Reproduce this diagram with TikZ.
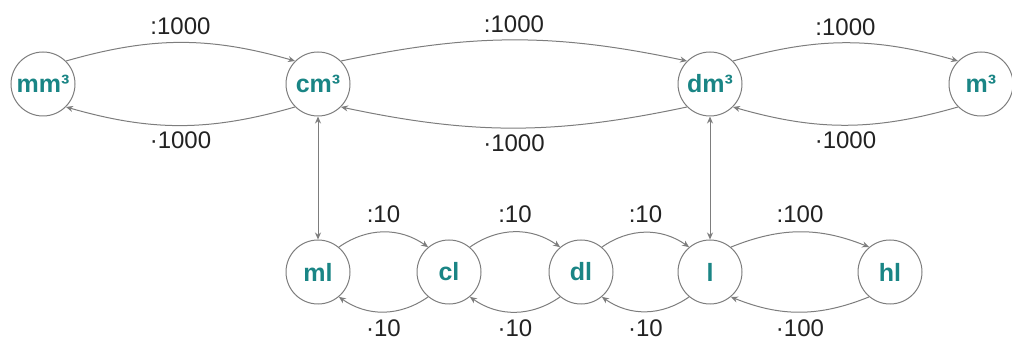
\documentclass[tikz,border=0pt]{standalone}
\usepackage{fontspec}
\setmainfont{Liberation Sans}
\usetikzlibrary{arrows.meta}
\definecolor{unitteal}{HTML}{1A8585}
\definecolor{linegray}{HTML}{7D7D7D}
\definecolor{labtext}{HTML}{222222}
\begin{document}
\begin{tikzpicture}[x=1pt,y=1pt,
  unit/.style={circle, draw=linegray, line width=1pt, minimum size=64pt, inner sep=0pt,
    font=\fontsize{25}{25}\selectfont\bfseries, text=unitteal},
  conv/.style={draw=linegray, line width=1pt, -{Stealth[length=7pt,width=6pt]}},
  both/.style={draw=linegray, line width=1pt, {Stealth[length=7pt,width=6pt]}-{Stealth[length=7pt,width=6pt]}},
  lab/.style={font=\fontsize{24}{24}\selectfont, text=labtext, inner sep=0pt}]
\useasboundingbox (0,0) rectangle (1012,340);
% top row
\node[unit] (mm) at (43,256) {mm³};
\node[unit] (cm) at (318,256) {cm³};
\node[unit] (dm) at (710,256) {dm³};
\node[unit] (m)  at (981,256) {m³};
% bottom row
\node[unit] (ml) at (318,68) {ml};
\node[unit] (cl) at (449,68) {cl};
\node[unit] (dl) at (581,68) {dl};
\node[unit] (l)  at (710,68) {l};
\node[unit] (hl) at (890,68) {hl};
% top connectors
\draw[conv] (mm.45) to[out=16,in=164] node[lab,above=7pt]{:1000} (cm.135);
\draw[conv] (cm.-135) to[out=-164,in=-16] node[lab,below=6pt]{·1000} (mm.-45);
\draw[conv] (cm.45) to[out=12,in=168] node[lab,above=7pt]{:1000} (dm.135);
\draw[conv] (dm.-135) to[out=-168,in=-12] node[lab,below=6pt]{·1000} (cm.-45);
\draw[conv] (dm.45) to[out=16,in=164] node[lab,above=7pt]{:1000} (m.135);
\draw[conv] (m.-135) to[out=-164,in=-16] node[lab,below=6pt]{·1000} (dm.-45);
% vertical
\draw[both] (cm) -- (ml);
\draw[both] (dm) -- (l);
% bottom connectors
\draw[conv] (ml.50) to[out=35,in=145] node[lab,above=9pt]{:10} (cl.130);
\draw[conv] (cl.-130) to[out=-145,in=-35] node[lab,below=7.5pt]{·10} (ml.-50);
\draw[conv] (cl.50) to[out=35,in=145] node[lab,above=9pt]{:10} (dl.130);
\draw[conv] (dl.-130) to[out=-145,in=-35] node[lab,below=7.5pt]{·10} (cl.-50);
\draw[conv] (dl.50) to[out=35,in=145] node[lab,above=9pt]{:10} (l.130);
\draw[conv] (l.-130) to[out=-145,in=-35] node[lab,below=7.5pt]{·10} (dl.-50);
\draw[conv] (l.50) to[out=22,in=158] node[lab,above=9pt]{:100} (hl.130);
\draw[conv] (hl.-130) to[out=-158,in=-22] node[lab,below=7.5pt]{·100} (l.-50);
\end{tikzpicture}
\end{document}
